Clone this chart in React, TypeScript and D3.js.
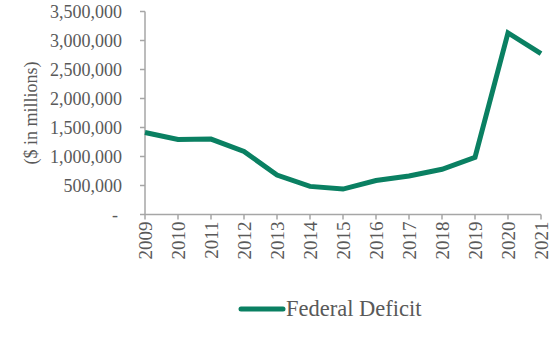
import React from "react";
import * as d3 from "d3";

const years = ["2009","2010","2011","2012","2013","2014","2015","2016","2017","2018","2019","2020","2021"];
const deficit = [1413000, 1294000, 1300000, 1087000, 680000, 485000, 438000, 585000, 665000, 779000, 984000, 3132000, 2775000];
const yTicks = [0, 500000, 1000000, 1500000, 2000000, 2500000, 3000000, 3500000];
const seriesName = "Federal Deficit";
const yTitle = "($ in millions)";

const W = 555, H = 342;
const left = 145, right = 541, top = 11.5, bottom = 214.5;
const color = "#0a8062";
const axisColor = "#a6a6a6";
const textColor = "#595959";
const font = "'Liberation Serif', 'Times New Roman', serif";

export default function App() {
  const x = d3.scalePoint<string>().domain(years).range([left, right]);
  const y = d3.scaleLinear().domain([0, 3500000]).range([bottom, top]);
  const line = d3.line<number>().x((_, i) => x(years[i])!).y(d => y(d));
  const fmt = (v: number) => (v === 0 ? "-" : d3.format(",")(v));
  return (
    <svg width={W} height={H} style={{ position: "absolute", left: 0, top: 0, background: "#fff" }} fontFamily={font}>
      <line x1={left} x2={left} y1={top} y2={bottom} stroke={axisColor} strokeWidth={1.5} />
      <line x1={left} x2={right} y1={bottom} y2={bottom} stroke={axisColor} strokeWidth={1.5} />
      {yTicks.map(t => (
        <g key={t}>
          <line x1={left - 5} x2={left} y1={y(t)} y2={y(t)} stroke={axisColor} strokeWidth={1.5} />
          <text x={t === 0 ? 118 : 122} y={y(t)} dy="0.35em" textAnchor="end" fontSize={18} fill={textColor}>{fmt(t)}</text>
        </g>
      ))}
      {years.map(yr => (
        <g key={yr}>
          <line x1={x(yr)} x2={x(yr)} y1={bottom} y2={bottom + 5} stroke={axisColor} strokeWidth={1.5} />
          <text transform={`translate(${x(yr)! + 6.5},${bottom + 7}) rotate(-90)`} textAnchor="end" fontSize={19} fill={textColor}>{yr}</text>
        </g>
      ))}
      <text transform={`translate(37,${(top + bottom) / 2}) rotate(-90)`} textAnchor="middle" fontSize={18} fill={textColor}>{yTitle}</text>
      <path d={line(deficit) || ""} fill="none" stroke={color} strokeWidth={5} strokeLinejoin="miter" />
      <line x1={241} x2={283} y1={309} y2={309} stroke={color} strokeWidth={5} strokeLinecap="round" />
      <text x={286} y={316} fontSize={22.5} fill={textColor}>{seriesName}</text>
    </svg>
  );
}
